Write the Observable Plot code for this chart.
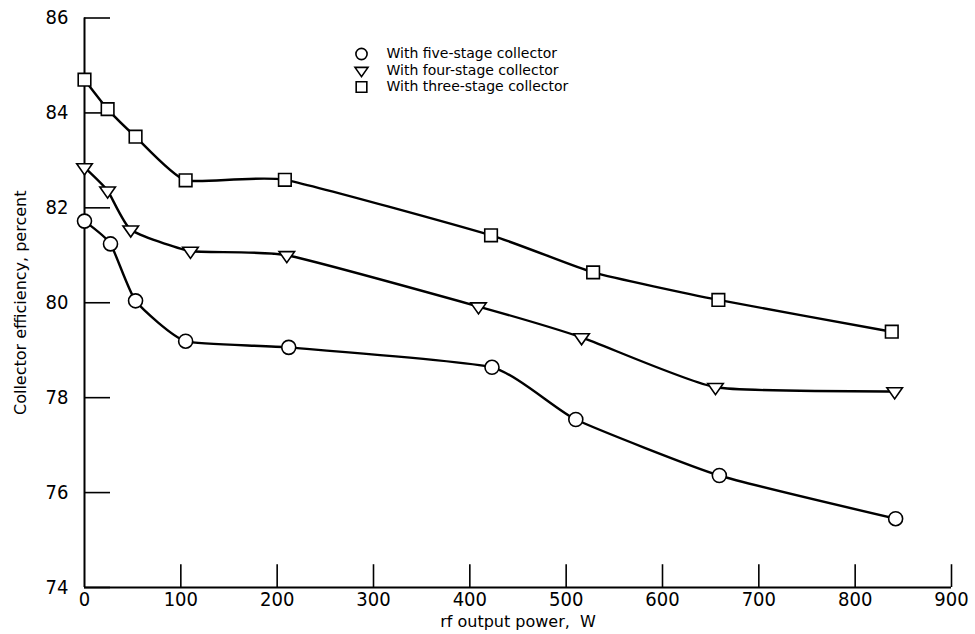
<!DOCTYPE html>
<html>
<head>
<meta charset="utf-8">
<script src="https://cdn.jsdelivr.net/npm/d3@7"></script>
<script src="https://cdn.jsdelivr.net/npm/@observablehq/plot@0.6"></script>
<style>
  html, body { margin: 0; padding: 0; background: #fff; }
</style>
</head>
<body>
<div id="chart"></div>
<script>
// ---- data ----
const fiveX  = [0, 27, 53, 105, 212, 423, 510, 659, 842];
const fiveY  = [81.72, 81.24, 80.04, 79.19, 79.06, 78.64, 77.54, 76.36, 75.45];
const fourX  = [0, 24, 48, 110, 210, 409, 516, 655, 841];
const fourY  = [82.85, 82.36, 81.54, 81.09, 81.00, 79.92, 79.27, 78.22, 78.13];
const threeX = [0, 24, 53, 105, 208, 422, 528, 658, 838];
const threeY = [84.70, 84.08, 83.50, 82.58, 82.59, 81.42, 80.64, 80.06, 79.39];

const yTicks = [74, 76, 78, 80, 82, 84, 86];
const xTicks = [0, 100, 200, 300, 400, 500, 600, 700, 800, 900];
const legendLabels = ["With five-stage collector", "With four-stage collector", "With three-stage collector"];
const xTitle = "rf output power,  W";
const yTitle = "Collector efficiency, percent";

// ---- symbols ----
const triangleDown = {
  draw(ctx, size) {
    const r = Math.sqrt(size / Math.PI);
    ctx.moveTo(-r * 1.05, -r * 0.5);
    ctx.lineTo(r * 1.05, -r * 0.5);
    ctx.lineTo(0, r);
    ctx.closePath();
  }
};

const series = [
  {name: legendLabels[0], xs: fiveX,  ys: fiveY,  symbol: "circle",  r: 7.0, lr: 5.6},
  {name: legendLabels[1], xs: fourX,  ys: fourY,  symbol: triangleDown, r: 7.4, lr: 6.2},
  {name: legendLabels[2], xs: threeX, ys: threeY, symbol: "square",  r: 7.1, lr: 6.0}
];
const rowsOf = s => s.xs.map((x, i) => ({series: s.name, x, y: s.ys[i]}));

const tickFont = '"Liberation Sans Narrow", "DejaVu Sans Condensed", sans-serif';
const textFont = '"DejaVu Sans", sans-serif';

const marks = [
  // axis lines
  Plot.ruleX([0], {y1: 74, y2: 86, stroke: "black", strokeWidth: 2}),
  Plot.ruleY([74], {x1: 0, x2: 900, stroke: "black", strokeWidth: 2}),
  // inward ticks
  Plot.ruleY(yTicks, {x1: 0, x2: 27, stroke: "black", strokeWidth: 1.6}),
  Plot.ruleX(xTicks.filter(d => d > 0), {y1: 74, y2: 74.48, stroke: "black", strokeWidth: 1.6}),
  // tick labels
  Plot.axisY({ticks: yTicks, tickSize: 0, tickPadding: 16, label: null,
              fontSize: 20, fontFamily: tickFont, fill: "black"}),
  Plot.axisX({ticks: xTicks, tickSize: 0, tickPadding: 4, label: null,
              fontSize: 20, fontFamily: tickFont, fill: "black"})
];

// curves
for (const s of series) {
  marks.push(Plot.line(rowsOf(s), {x: "x", y: "y", curve: "cardinal", tension: 0.5,
    stroke: "black", strokeWidth: 2.4}));
}
// markers
for (const s of series) {
  marks.push(Plot.dot(rowsOf(s), {x: "x", y: "y", symbol: s.symbol, r: s.r,
    fill: "white", stroke: "black", strokeWidth: 1.6}));
}
// legend
series.forEach((s, i) => {
  marks.push(Plot.dot([s.name], {frameAnchor: "top-left", dx: 277, dy: 36 + 16.5 * i,
    symbol: s.symbol, r: s.lr, fill: "white", stroke: "black", strokeWidth: 1.6}));
  marks.push(Plot.text([s.name], {text: d => d, frameAnchor: "top-left", dx: 302, dy: 36 + 16.5 * i,
    textAnchor: "start", lineAnchor: "middle", fontSize: 14, fontFamily: textFont, fill: "black"}));
});
// axis titles
marks.push(Plot.text([yTitle], {text: d => d, frameAnchor: "left", dx: -64, rotate: -90,
  textAnchor: "middle", lineAnchor: "middle",
  fontSize: 16, fontFamily: textFont, fill: "black"}));
marks.push(Plot.text([xTitle], {text: d => d, frameAnchor: "bottom", dy: 34,
  textAnchor: "middle", lineAnchor: "middle",
  fontSize: 16, fontFamily: textFont, fill: "black"}));

const chart = Plot.plot({
  width: 975,
  height: 634,
  marginLeft: 84,
  marginRight: 24,
  marginTop: 17.5,
  marginBottom: 47,
  x: {domain: [0, 900]},
  y: {domain: [74, 86]},
  style: {background: "white", color: "black", overflow: "visible"},
  marks
});
document.getElementById("chart").appendChild(chart);
</script>
</body>
</html>
